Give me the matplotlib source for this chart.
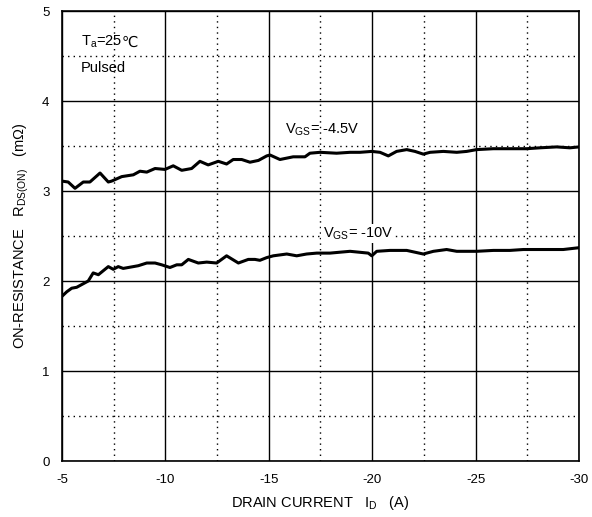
import matplotlib
matplotlib.use('Agg')
import matplotlib.pyplot as plt
from matplotlib.ticker import MultipleLocator

plt.rcParams['font.family'] = ['Liberation Sans', 'DejaVu Sans']
plt.rcParams['mathtext.fontset'] = 'custom'
plt.rcParams['mathtext.rm'] = 'Liberation Sans'
plt.rcParams['mathtext.default'] = 'regular'
plt.rcParams['axes.unicode_minus'] = False

# VGS = -4.5V curve (drain current A, on-resistance mOhm)
id_45 = [-5.0, -5.3, -5.63, -6.03, -6.35, -6.84, -7.24, -7.4, -7.89, -8.45, -8.77, -9.10,
         -9.50, -9.98, -10.38, -10.79, -11.27, -11.67, -12.07, -12.56, -12.96, -13.28,
         -13.69, -14.09, -14.5, -14.90, -15.06, -15.54, -16.18, -16.75, -16.99, -17.48,
         -18.28, -18.93, -19.41, -19.98, -20.38, -20.78, -21.18, -21.67, -22.07, -22.47,
         -22.80, -23.44, -24.09, -24.57, -25.05, -25.86, -26.66, -27.47, -28.11, -28.92,
         -29.56, -30.0]
r_45 = [3.11, 3.10, 3.03, 3.10, 3.10, 3.20, 3.10, 3.11, 3.16, 3.18, 3.22, 3.21,
        3.25, 3.24, 3.28, 3.23, 3.25, 3.33, 3.29, 3.33, 3.30, 3.35,
        3.35, 3.32, 3.34, 3.39, 3.40, 3.35, 3.38, 3.38, 3.42, 3.43,
        3.42, 3.43, 3.43, 3.44, 3.43, 3.39, 3.44, 3.46, 3.44, 3.41,
        3.43, 3.44, 3.43, 3.44, 3.46, 3.47, 3.47, 3.47, 3.48, 3.49,
        3.48, 3.49]

# VGS = -10V curve
id_10 = [-5.0, -5.23, -5.47, -5.71, -6.03, -6.27, -6.51, -6.76, -7.24, -7.48, -7.72, -7.96,
         -8.45, -8.69, -9.10, -9.50, -9.82, -10.22, -10.55, -10.79, -11.11, -11.59,
         -12.00, -12.48, -12.96, -13.53, -14.01, -14.33, -14.57, -14.90, -15.22, -15.87,
         -16.35, -16.83, -17.32, -17.96, -18.44, -18.93, -19.81, -19.98, -20.22, -20.86,
         -21.67, -22.47, -22.96, -23.60, -24.09, -25.05, -25.86, -26.66, -27.31, -27.95,
         -28.60, -29.24, -30.0]
r_10 = [1.83, 1.88, 1.92, 1.93, 1.97, 2.00, 2.09, 2.07, 2.16, 2.13, 2.16, 2.14,
        2.16, 2.17, 2.20, 2.20, 2.18, 2.15, 2.18, 2.18, 2.24, 2.20,
        2.21, 2.20, 2.28, 2.20, 2.24, 2.24, 2.23, 2.26, 2.28, 2.30,
        2.28, 2.30, 2.31, 2.31, 2.32, 2.33, 2.31, 2.28, 2.33, 2.34,
        2.34, 2.30, 2.33, 2.35, 2.33, 2.33, 2.34, 2.34, 2.35, 2.35,
        2.35, 2.35, 2.37]

fig = plt.figure(figsize=(5.92, 5.17), dpi=100)
ax = fig.add_axes([0.1047, 0.1083, 0.8733, 0.8704])

ax.plot(id_45, r_45, color='black', linewidth=2.2, zorder=4)
ax.plot(id_10, r_10, color='black', linewidth=2.2, zorder=4)

ax.set_xlim(-5, -30)
ax.set_ylim(0, 5)
ax.xaxis.set_major_locator(MultipleLocator(5))
ax.xaxis.set_minor_locator(MultipleLocator(2.5))
ax.yaxis.set_major_locator(MultipleLocator(1))
ax.yaxis.set_minor_locator(MultipleLocator(0.5))
ax.grid(which='major', color='black', linewidth=1.0, linestyle='-')
ax.grid(which='minor', color='black', linewidth=1.0, linestyle=(0, (1, 3)))
ax.tick_params(which='both', length=0, labelsize=9.5, pad=9)
for s in ax.spines.values():
    s.set_linewidth(1.2)

ax.set_xlabel('DRAIN CURRENT   I$_D$   (A)', fontsize=10.5, labelpad=6)
ax.set_ylabel('ON-RESISTANCE   R$_{DS(ON)}$   (m\u03a9)', fontsize=10.5, labelpad=8)

ta = ax.text(-5.9, 4.62, 'T$_a$=25', fontsize=10.5, va='baseline', ha='left')
ax.annotate('\u2103', xy=(1, 0), xycoords=ta, va='bottom', ha='left',
            fontsize=10.5, family='DejaVu Sans')
ax.text(-5.9, 4.37, 'Pulsed', fontsize=10.5, va='center', ha='left')
ax.text(-15.8, 3.68, 'V$_{GS}$= -4.5V', fontsize=10.5, va='center', ha='left')
ax.text(-17.6, 2.53, 'V$_{GS}$= -10V', fontsize=10.5, va='center', ha='left',
        bbox=dict(facecolor='white', edgecolor='none', pad=1), zorder=5)

plt.savefig('out.png', dpi=100)
